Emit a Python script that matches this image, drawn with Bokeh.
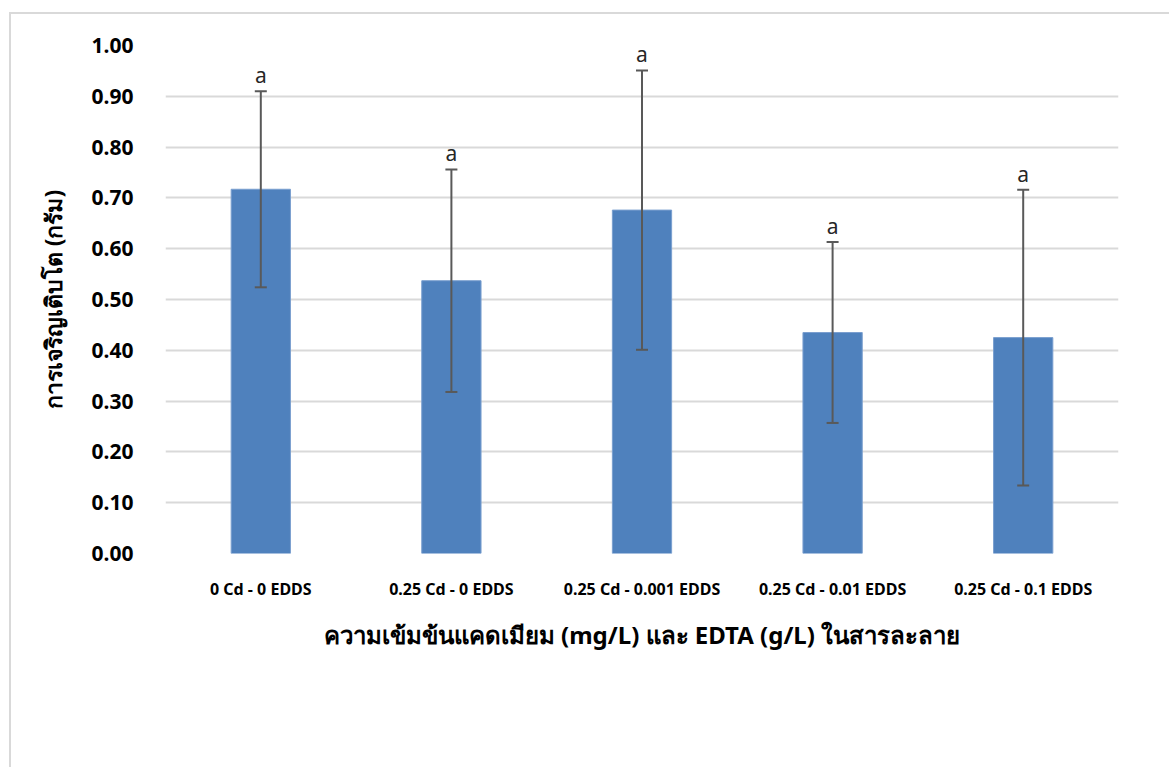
from bokeh.plotting import figure
from bokeh.models import (ColumnDataSource, FactorRange, Range1d, FixedTicker,
                          NumeralTickFormatter, Whisker, TeeHead)
from bokeh.core.properties import value
from bokeh.embed import file_html
from bokeh.resources import INLINE

categories = ["0 Cd - 0 EDDS", "0.25 Cd - 0 EDDS", "0.25 Cd - 0.001 EDDS",
              "0.25 Cd - 0.01 EDDS", "0.25 Cd - 0.1 EDDS"]
means = [0.717, 0.537, 0.676, 0.435, 0.425]
errors = [0.193, 0.219, 0.275, 0.178, 0.291]
letters = ["a", "a", "a", "a", "a"]
y_ticks = [0.0, 0.1, 0.2, 0.3, 0.4, 0.5, 0.6, 0.7, 0.8, 0.9, 1.0]

x_title = "ความเข้มข้นแคดเมียม (mg/L) และ EDTA (g/L) ในสารละลาย"
y_title = "การเจริญเติบโต (กรัม)"

FONT = "Noto Sans"

src = ColumnDataSource(dict(
    cat=categories,
    mean=means,
    upper=[m + e for m, e in zip(means, errors)],
    lower=[m - e for m, e in zip(means, errors)],
    lab=letters,
))

p = figure(width=1160, height=755, x_range=FactorRange(*categories),
           y_range=Range1d(0, 1.0), output_backend="svg", toolbar_location=None,
           min_border_left=154, min_border_right=53, min_border_top=31,
           min_border_bottom=216)
p.outline_line_color = None
p.background_fill_color = "white"
p.border_fill_color = "white"
# light gray chart-area border (top/left visible, rest beyond the window)
p.styles = {"margin-left": "9px", "margin-top": "12px",
            "border-left": "2px solid #d9d9d9", "border-top": "2px solid #d9d9d9"}

p.vbar(x="cat", top="mean", width=0.311, source=src, fill_color="#4f81bd",
       line_color="#7a9fcf", line_width=1)

w = Whisker(base="cat", upper="upper", lower="lower", source=src,
            line_color="#595959", line_width=2, level="overlay",
            upper_head=TeeHead(size=12, line_color="#595959", line_width=2),
            lower_head=TeeHead(size=12, line_color="#595959", line_width=2))
p.add_layout(w)

p.text(x="cat", y="upper", text="lab", source=src, y_offset=-2,
       text_align="center", text_baseline="bottom",
       text_font=value(FONT), text_font_size="21px", text_color="#262626")

# grid
p.xgrid.grid_line_color = None
p.ygrid.grid_line_color = "#d9d9d9"
p.ygrid.grid_line_width = 2
p.yaxis.ticker = FixedTicker(ticks=y_ticks)
p.yaxis.formatter = NumeralTickFormatter(format="0.00")

for ax in (p.xaxis[0], p.yaxis[0]):
    ax.axis_line_color = None
    ax.major_tick_line_color = None
    ax.minor_tick_line_color = None
    ax.major_tick_in = 0
    ax.major_tick_out = 0
    ax.minor_tick_in = 0
    ax.minor_tick_out = 0
    ax.major_label_text_font = FONT
    ax.major_label_text_font_style = "bold"
    ax.major_label_text_color = "#000000"
    ax.axis_label_text_font = FONT
    ax.axis_label_text_font_style = "bold"
    ax.axis_label_text_color = "#000000"

p.yaxis.major_label_text_font_size = "21px"
p.yaxis.major_label_standoff = 32
p.yaxis.axis_label = y_title
p.yaxis.axis_label_text_font_size = "23px"
p.yaxis.axis_label_standoff = 20

p.xaxis.major_label_text_font_size = "16px"
p.xaxis.major_label_standoff = 24
p.xaxis.axis_label = x_title
p.xaxis.axis_label_text_font_size = "24px"
p.xaxis.axis_label_standoff = 15

open("out.html", "w").write(file_html(p, INLINE))
